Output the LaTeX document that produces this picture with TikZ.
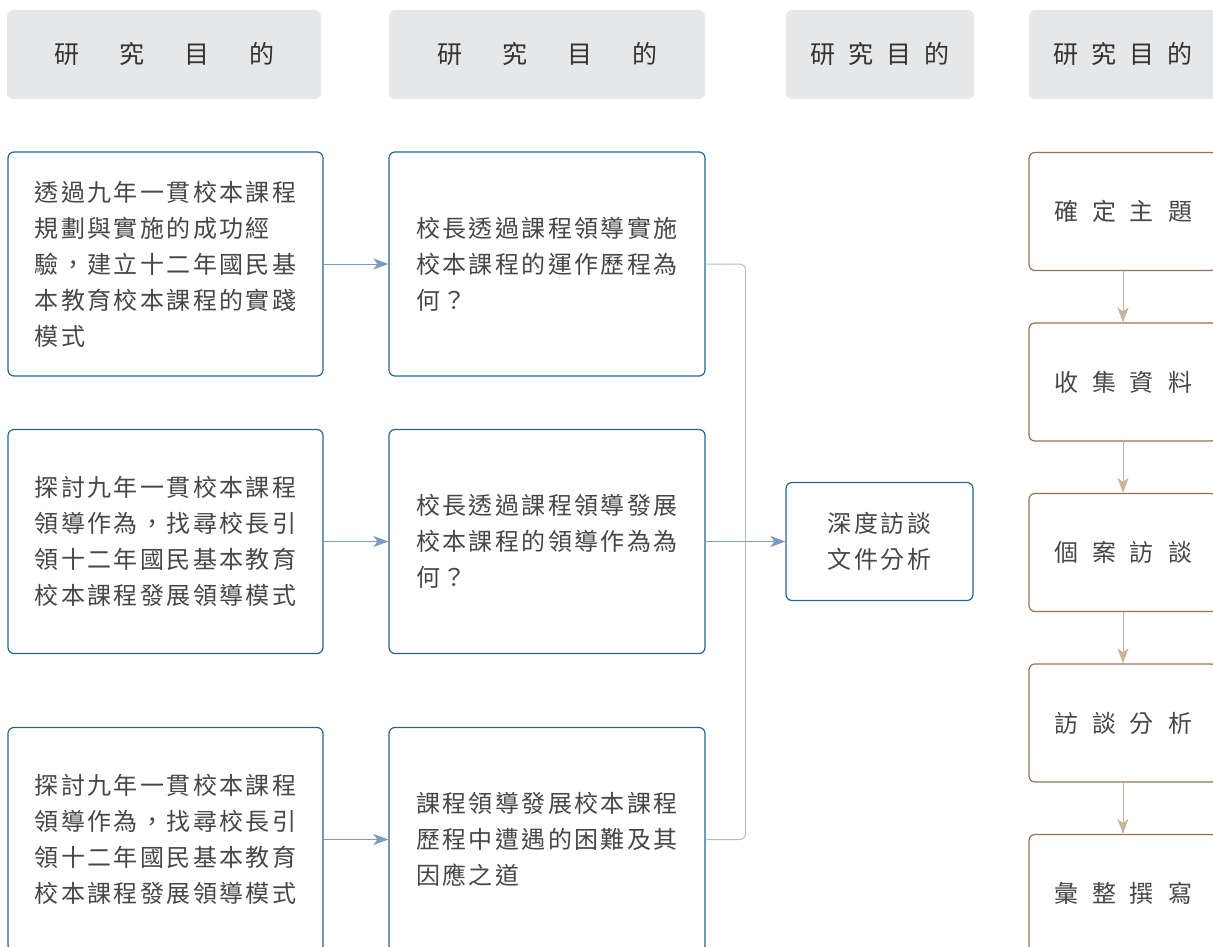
\documentclass[tikz,border=0pt]{standalone}
\usepackage{fontspec}
\newfontfamily\cjk{Noto Sans CJK TC}
\usepackage{tikz}
\usetikzlibrary{positioning, arrows.meta}
\definecolor{headgray}{RGB}{230,231,233}
\definecolor{boxblue}{RGB}{40,100,145}
\definecolor{arrowblue}{RGB}{125,154,192}
\definecolor{linkblue}{RGB}{170,190,218}
\definecolor{boxbrown}{RGB}{150,115,80}
\definecolor{arrowbrown}{RGB}{200,180,155}
\definecolor{inkgray}{RGB}{70,70,70}

\begin{document}
\begin{tikzpicture}[x=1pt, y=-1pt, >={Stealth[length=15pt, width=11pt, inset=4pt]}]
\tikzstyle{head} = [fill=headgray, rounded corners=6pt, minimum height=89pt, text=black!80, font={\cjk\fontsize{25}{25}\selectfont}]
\tikzstyle{aim} = [draw=boxblue, line width=1.2pt, rounded corners=6pt, minimum width=315pt, minimum height=224pt, align=left, text=inkgray, font={\cjk\fontsize{24}{36}\selectfont\addfontfeature{LetterSpace=10}}]
\tikzstyle{method} = [aim, minimum width=187pt, minimum height=118pt]
\tikzstyle{stepbox} = [draw=boxbrown, line width=1.2pt, rounded corners=6pt, minimum width=188pt, minimum height=118pt, text=inkgray, font={\cjk\fontsize{24}{24}\selectfont}]
\tikzstyle{flow} = [->, arrowblue, line width=1pt]
\tikzstyle{link} = [linkblue, line width=1pt, rounded corners=6pt]
\tikzstyle{stepflow} = [->, arrowbrown, line width=1pt]

\useasboundingbox (0,0) rectangle (1213,947);

%%headers
\node (head1) [head, minimum width=314pt] at (164,54.5) {研\hspace{40pt}究\hspace{40pt}目\hspace{40pt}的};
\node (head2) [head, minimum width=316pt, right of = head1, node distance = 383pt] {研\hspace{40pt}究\hspace{40pt}目\hspace{40pt}的};
\node (head3) [head, minimum width=188pt, right of = head2, node distance = 333pt] {研\hspace{13pt}究\hspace{13pt}目\hspace{13pt}的};
\node (head4) [head, minimum width=188pt, right of = head3, node distance = 243pt] {研\hspace{13pt}究\hspace{13pt}目\hspace{13pt}的};

%%aims
\node (aim1) [aim] at (165.5,264) {透過九年一貫校本課程\\規劃與實施的成功經\\驗，建立十二年國民基\\本教育校本課程的實踐\\模式};
\node (aim2) [aim, below of = aim1, node distance = 277.5pt] {探討九年一貫校本課程\\領導作為，找尋校長引\\領十二年國民基本教育\\校本課程發展領導模式};
\node (aim3) [aim, below of = aim2, node distance = 298pt] {探討九年一貫校本課程\\領導作為，找尋校長引\\領十二年國民基本教育\\校本課程發展領導模式};

%%questions
\node (q1) [aim, minimum width=316pt, right of = aim1, node distance = 381.5pt] {校長透過課程領導實施\\校本課程的運作歷程為\\何？};
\node (q2) [aim, minimum width=316pt, right of = aim2, node distance = 381.5pt] {校長透過課程領導發展\\校本課程的領導作為為\\何？};
\node (q3) [aim, minimum width=316pt, right of = aim3, node distance = 381.5pt] {課程領導發展校本課程\\歷程中遭遇的困難及其\\因應之道};

\node (method) [method, right of = q2, node distance = 332.5pt] {深度訪談\\文件分析};

%%steps
\node (step1) [stepbox] at (1123,211.5) {確\hspace{14pt}定\hspace{14pt}主\hspace{14pt}題};
\node (step2) [stepbox, below of = step1, node distance = 170.5pt] {收\hspace{14pt}集\hspace{14pt}資\hspace{14pt}料};
\node (step3) [stepbox, below of = step2, node distance = 170.5pt] {個\hspace{14pt}案\hspace{14pt}訪\hspace{14pt}談};
\node (step4) [stepbox, below of = step3, node distance = 170.5pt] {訪\hspace{14pt}談\hspace{14pt}分\hspace{14pt}析};
\node (step5) [stepbox, below of = step4, node distance = 170.5pt] {彙\hspace{14pt}整\hspace{14pt}撰\hspace{14pt}寫};

%%connectors
\draw [flow] (aim1) -- (q1);
\draw [flow] (aim2) -- (q2);
\draw [flow] (aim3) -- (q3);
\draw [link] (q1.east) -- ++(40,0) |- (q3.east);
\draw [flow] (q2) -- (method);
\draw [stepflow] (step1) -- (step2);
\draw [stepflow] (step2) -- (step3);
\draw [stepflow] (step3) -- (step4);
\draw [stepflow] (step4) -- (step5);

\end{tikzpicture}
\end{document}
